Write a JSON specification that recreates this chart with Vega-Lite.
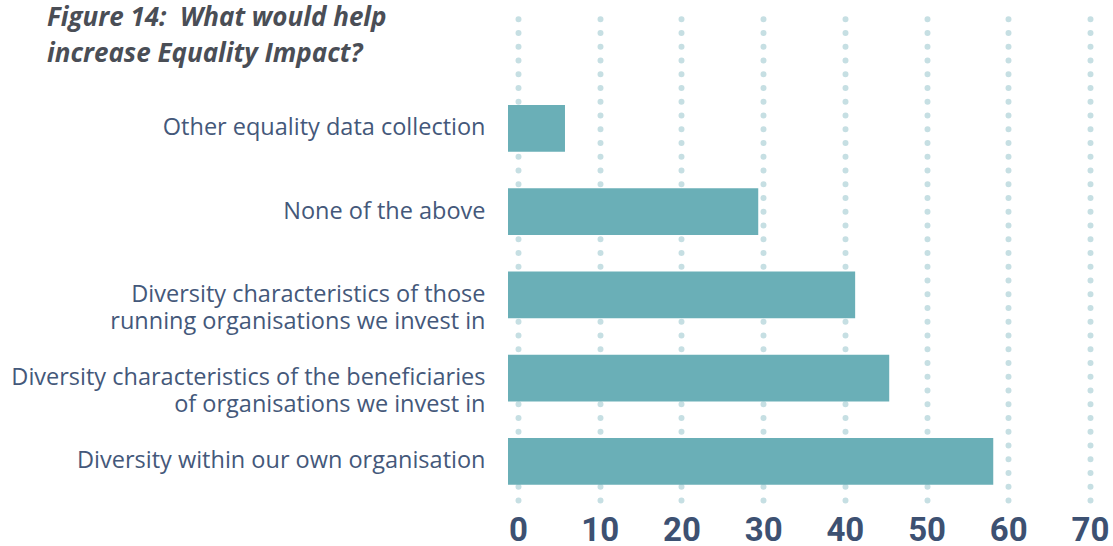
{
  "$schema": "https://vega.github.io/schema/vega-lite/v6.json",
  "width": 572,
  "height": 484,
  "autosize": {"type": "none"},
  "padding": {"left": 518, "top": 16, "right": 23, "bottom": 46},
  "background": "white",
  "title": {
    "text": ["Figure 14:\u00a0 What would help", "increase Equality Impact?"],
    "orient": "top",
    "anchor": "start",
    "frame": "group",
    "offset": 0,
    "baseline": "alphabetic",
    "dx": -471,
    "dy": 72,
    "font": "Open Sans",
    "fontSize": 26,
    "fontStyle": "italic",
    "fontWeight": "bold",
    "color": "#4a4e56",
    "lineHeight": 36
  },
  "data": {
    "values": [
      {"option": "Other equality data collection", "value": 5.75},
      {"option": "None of the above", "value": 29.4},
      {"option": "Diversity characteristics of those running organisations we invest in", "value": 41.26},
      {"option": "Diversity characteristics of the beneficiaries of organisations we invest in", "value": 45.43},
      {"option": "Diversity within our own organisation", "value": 58.16}
    ]
  },
  "mark": {"type": "bar", "color": "#6aafb7", "x2Offset": -10},
  "encoding": {
    "y": {
      "field": "option",
      "type": "nominal",
      "sort": {"field": "value", "order": "ascending"},
      "scale": {"paddingInner": 0.439, "paddingOuter": 0.626, "align": 0.853},
      "axis": {
        "title": null,
        "domain": false,
        "ticks": false,
        "grid": false,
        "labelFont": "Open Sans",
        "labelFontSize": 23.5,
        "labelColor": "#44587a",
        "labelPadding": 33,
        "labelLimit": 0,
        "labelLineHeight": 27,
        "labelExpr": "datum.label == 'Diversity characteristics of those running organisations we invest in' ? ['Diversity characteristics of those', 'running organisations we invest in'] : datum.label == 'Diversity characteristics of the beneficiaries of organisations we invest in' ? ['Diversity characteristics of the beneficiaries', 'of organisations we invest in'] : datum.label"
      }
    },
    "x": {
      "field": "value",
      "type": "quantitative",
      "scale": {"domain": [0, 70], "nice": false},
      "axis": {
        "title": null,
        "values": [0, 10, 20, 30, 40, 50, 60, 70],
        "domain": false,
        "ticks": false,
        "grid": true,
        "gridColor": "#c6dfe3",
        "gridWidth": 6,
        "gridCap": "round",
        "gridDash": [0, 13.75],
        "labelFlush": false,
        "labelFont": "Roboto",
        "labelFontWeight": "bold",
        "labelFontSize": 33,
        "labelColor": "#3d5172",
        "labelPadding": 14
      }
    },
    "x2": {"datum": 0}
  },
  "config": {"view": {"stroke": null}}
}
